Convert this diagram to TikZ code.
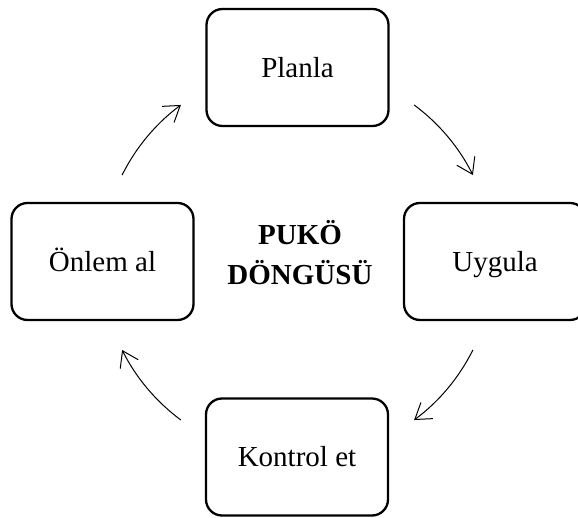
\documentclass[tikz,border=0pt]{standalone}
\usepackage{fontspec}
\setmainfont{Liberation Serif}
\usetikzlibrary{arrows.meta,calc}

\begin{document}
\begin{tikzpicture}[x=1pt,y=1pt,
  stagebox/.style={draw=black, line width=2.3pt, rounded corners=16pt,
    minimum width=182pt, minimum height=117pt, inner sep=0pt,
    text height=26pt, text depth=6pt,
    font=\fontsize{29}{34}\selectfont},
  cyclearrow/.style={line width=1pt, -{Straight Barb[length=15pt,width=20pt,line width=1pt]}}
]
  % page frame; the right-hand box runs past the edge
  \clip (0,0) rectangle (578,518);
  \fill[white] (0,0) rectangle (578,518);

  % the four stages of the cycle
  \node[stagebox] (plan)   at (297.5,450.5) {Planla};
  \node[stagebox] (do)     at (495,256.5)   {Uygula};
  \node[stagebox] (check)  at (297,61)      {Kontrol et};
  \node[stagebox] (act)    at (102.5,256.5) {Önlem al};

  % title in the middle
  \node[font=\bfseries\fontsize{29}{40}\selectfont, align=center] (title)
    at (300,265.5) {PUKÖ\\DÖNGÜSÜ};

  % arc ends on a circle around the middle
  \coordinate (hub) at (297.5,255.5);
  \coordinate (a1) at ($(hub)+(153.5:196)$);
  \coordinate (a2) at ($(hub)+(53.5:196)$);
  \coordinate (a3) at ($(hub)+(-26.5:196)$);
  \coordinate (a4) at ($(hub)+(-126.5:196)$);

  % curved arrows between the stages, running clockwise
  \draw[cyclearrow] (a1) arc[start angle=153.5, end angle=126.5, radius=196];
  \draw[cyclearrow] (a2) arc[start angle=53.5, end angle=26.5, radius=196];
  \draw[cyclearrow] (a3) arc[start angle=-26.5, end angle=-53.5, radius=196];
  \draw[cyclearrow] (a4) arc[start angle=-126.5, end angle=-153.5, radius=196];
\end{tikzpicture}
\end{document}
